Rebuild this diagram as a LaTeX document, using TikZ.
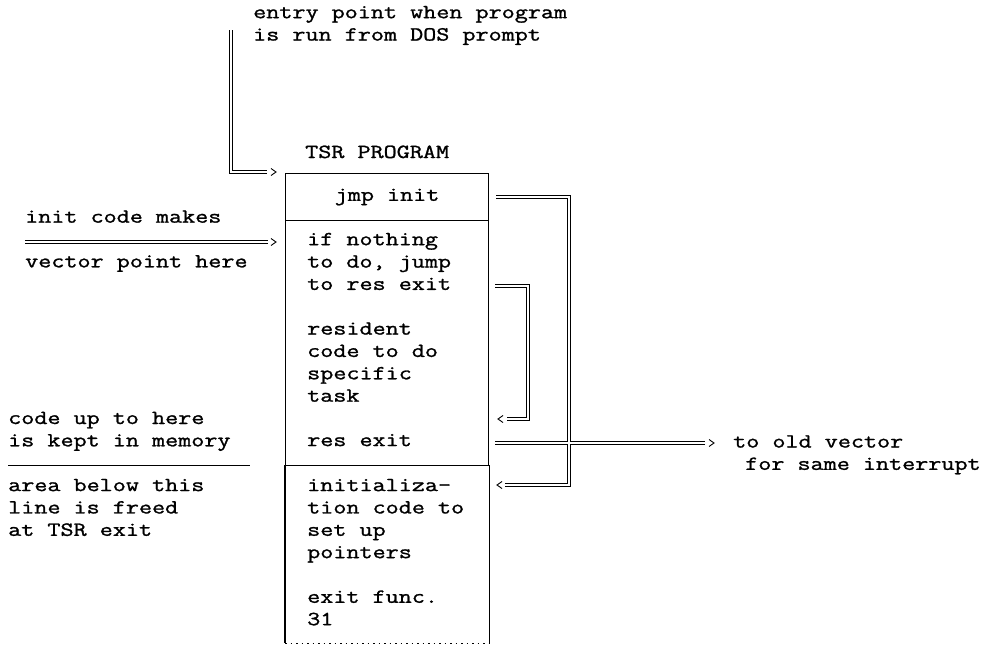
\documentclass[tikz,border=0pt]{standalone}
\usepackage{fontspec}
\newfontfamily\prtfont[FakeStretch=1.27,FakeBold=1.2]{Latin Modern Mono}
\usetikzlibrary{calc}
\newcommand\mystr{\rule{0pt}{14pt}}
\tikzset{
  every node/.style={inner sep=0pt, font=\prtfont\fontsize{20}{22.35}\selectfont},
  txt/.style={anchor=base west},
  blk/.style={anchor=north west, align=left},
  boxpart/.style={minimum width=203pt, anchor=north west, line width=1.1pt},
  dbl/.style={double, double distance=1.8pt, line width=1.1pt, line join=miter},
  chevR/.pic={\draw[line width=0.9pt] (-5,-3.5) -- (0,0) -- (-5,3.5);},
  chevL/.pic={\draw[line width=0.9pt] (5,-3.5) -- (0,0) -- (5,3.5);},
}
\begin{document}
\begin{tikzpicture}[x=1pt,y=-1pt]
\path[fill=white,use as bounding box] (0,0) rectangle (981,645);

% titles and labels
\node[blk] (entry) at (253,4) {\mystr entry point when program\\is run from DOS prompt};
\node[txt] (title) at (305,158) {TSR PROGRAM};

% the box
\node[boxpart, draw, minimum height=47pt] (top) at (285,173) {jmp init};
\node[boxpart, draw, minimum height=245pt] (mid) at (285,220) {};
\node[boxpart, minimum height=177pt] (bot) at (285,465) {};
\draw[line width=1.1pt] (bot.north west) -- (bot.south west);
\draw[line width=1.1pt] (bot.north east) -- (bot.south east);
\draw[line width=1pt, dash pattern=on 1.5pt off 4pt] (bot.south west) -- (bot.south east);

% box texts
\node[blk] (t1) at (307,231) {\mystr if nothing\\to do, jump\\to res exit};
\node[blk] (t2) at (307,320.4) {\mystr resident\\code to do\\specific\\task};
\node[txt] (t3) at (307,446.1) {res exit};
\node[blk] (t4) at (307,476.9) {\mystr initializa-\\tion code to\\set up\\pointers};
\node[blk] (t5) at (307,588.6) {\mystr exit func.\\31};

% left texts
\node[txt] (l1) at (25,222.65) {init code makes};
\node[txt] (l2) at (25,267.35) {vector point here};
\node[blk] (l3) at (8,409.8) {\mystr code up to here\\is kept in memory};
\node[blk] (l4) at (8,476.9) {\mystr area below this\\line is freed\\at TSR exit};
\coordinate (sepA) at (8,465);
\coordinate (sepB) at (250,465);
\draw[line width=1pt] (sepA) -- (sepB);

% right texts
\node[txt] (r1) at (733,447.5) {to old vector};
\node[txt] (r2) at (745,469.85) {for same interrupt};

% entry connector
\coordinate (e0) at (231,30);
\coordinate (e1) at ($(top.north west)+(-18,-1)$);
\draw[dbl] (e0) |- (e1);
\pic at ($(top.north west)+(-9,-1)$) {chevR};

% init code vector connector
\coordinate (v0) at (25,242);
\coordinate (v1) at ($(v0 -| mid.west)+(-17,0)$);
\draw[dbl] (v0) -- (v1);
\pic at ($(v0 -| mid.west)+(-9,0)$) {chevR};

% jmp init -> initialization
\coordinate (oA) at ($(top.east)+(7,0)$);
\coordinate (oB) at (569,485);
\coordinate (oC) at (505,485);
\draw[dbl] (oA) -| (oB) -- (oC);
\pic at (497,485) {chevL};

% to res exit -> res exit
\coordinate (iA) at (495,286);
\coordinate (iB) at (528,419);
\coordinate (iC) at (507,419);
\draw[dbl] (iA) -| (iB) -- (iC);
\pic at (498,419) {chevL};

% res exit -> old vector
\coordinate (xA) at (495,443);
\coordinate (xB) at (705,443);
\draw[dbl] (xA) -- (xB);
\pic at (714,443) {chevR};
% crossing
\draw[white, line width=1.8pt] (563,443) -- (575,443);
\draw[white, line width=1.8pt] (569,437) -- (569,449);
\end{tikzpicture}
\end{document}
